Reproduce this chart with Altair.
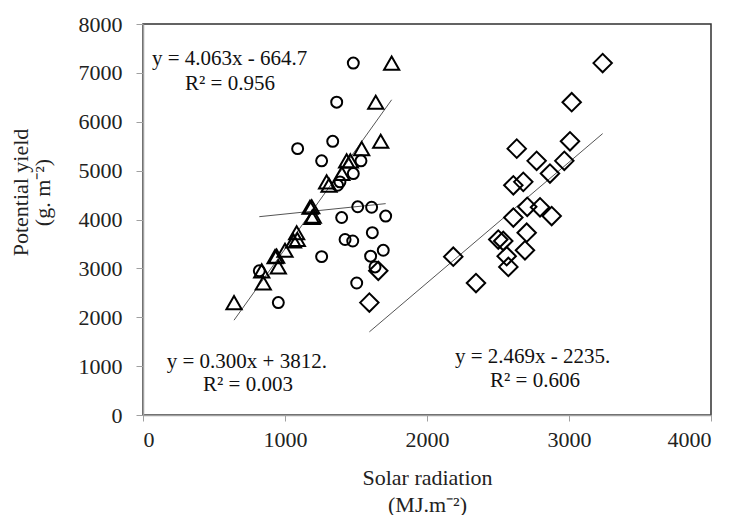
import altair as alt
import pandas as pd

# Potential yield (g m-2), shared by the three radiation series
yield_vals = [7200, 6400, 5600, 5450, 5200, 5200, 4940, 4770, 4700, 4260, 4250, 4070,
              4040, 3730, 3590, 3560, 3370, 3250, 3030, 3240, 2700, 2950, 2300]
rad_circle = [1481, 1364, 1336, 1089, 1258, 1535, 1481, 1387, 1370, 1512, 1610, 1709,
              1399, 1615, 1423, 1477, 1692, 1603, 1634, 1258, 1505, 819, 953]
rad_triangle = [1751, 1639, 1674, 1540, 1434, 1460, 1400, 1293, 1310, 1188, 1176, 1199,
                1190, 1082, 1087, 1060, 1000, 941, 953, 930, 847, 836, 641]
rad_diamond = [3237, 3019, 3007, 2632, 2772, 2967, 2866, 2678, 2608, 2706, 2796, 2878,
               2608, 2702, 2502, 2537, 2690, 2561, 2573, 2185, 2345, 1657, 1594]

series_names = ["circle", "triangle", "diamond"]
slopes = [0.300, 4.063, 2.469]
intercepts = [3812.0, -664.7, -2235.0]

ann_text = ["y = 4.063x  - 664.7", "R² = 0.956",
            "y = 0.300x  + 3812.", "R² = 0.003",
            "y = 2.469x  - 2235.", "R² = 0.606"]
ann_x = [63, 296, 167, 423, 2197, 2444]
ann_y = [7274, 6769, 1090, 613, 1186, 701]

x_ticks = [0, 1000, 2000, 3000, 4000]
y_ticks = [0, 1000, 2000, 3000, 4000, 5000, 6000, 7000, 8000]

rows = []
for name, xs in zip(series_names, [rad_circle, rad_triangle, rad_diamond]):
    for xv, yv in zip(xs, yield_vals):
        rows.append({"series": name, "rad": xv, "yield": yv})
pts = pd.DataFrame(rows)

lrows = []
for name, xs, a, b in zip(series_names, [rad_circle, rad_triangle, rad_diamond], slopes, intercepts):
    for xv in (min(xs), max(xs)):
        lrows.append({"series": name, "rad": xv, "yield": a * xv + b})
lines_df = pd.DataFrame(lrows)

ann = pd.DataFrame({"t": ann_text, "x": ann_x, "y": ann_y})

FONT = "Liberation Serif"
xs = alt.Scale(domain=[0, 4000], nice=False, zero=False)
ys = alt.Scale(domain=[0, 8000], nice=False, zero=False)

x_axis = alt.Axis(values=x_ticks, format="d", title=["Solar radiation", "(MJ.m⁻²)"], tickSize=6,
                  labelPadding=8, titlePadding=17, titleLineHeight=27)
y_axis = alt.Axis(values=y_ticks, format="d", title=["Potential yield", "(g. m⁻²)"], tickSize=7,
                  labelPadding=14, titlePadding=24, titleLineHeight=22, titleY=168)

trend = alt.Chart(lines_df).mark_line(color="#555555", strokeWidth=1).encode(
    x=alt.X("rad:Q", scale=xs, axis=x_axis),
    y=alt.Y("yield:Q", scale=ys, axis=y_axis),
    detail="series:N",
)

points = alt.Chart(pts).mark_point(filled=False, color="black", strokeWidth=2, opacity=1).encode(
    x=alt.X("rad:Q", scale=xs),
    y=alt.Y("yield:Q", scale=ys),
    shape=alt.Shape("series:N", scale=alt.Scale(domain=series_names,
                                                 range=["circle", "triangle-up", "diamond"]), legend=None),
    size=alt.Size("series:N", scale=alt.Scale(domain=series_names, range=[120, 340, 270]), legend=None),
)

labels = alt.Chart(ann).mark_text(align="left", baseline="middle", font=FONT, fontSize=21,
                                  color="#111111").encode(
    x=alt.X("x:Q", scale=xs),
    y=alt.Y("y:Q", scale=ys),
    text="t:N",
)

chart = alt.layer(trend, points, labels).properties(
    width=568, height=391,
    autosize=alt.AutoSizeParams(type="none"),
    padding={"left": 135, "top": 16, "right": 10, "bottom": 100},
).configure_view(
    stroke="#303030", strokeWidth=1.5
).configure_axis(
    grid=False, domainColor="#a0a0a0", tickColor="#a0a0a0", domainWidth=1.5,
    labelFont=FONT, labelFontSize=22, labelColor="#222222",
    titleFont=FONT, titleFontSize=22, titleFontWeight="normal", titleColor="#222222",
)

chart.save("out.html", embed_options={"renderer": "svg", "actions": False})
